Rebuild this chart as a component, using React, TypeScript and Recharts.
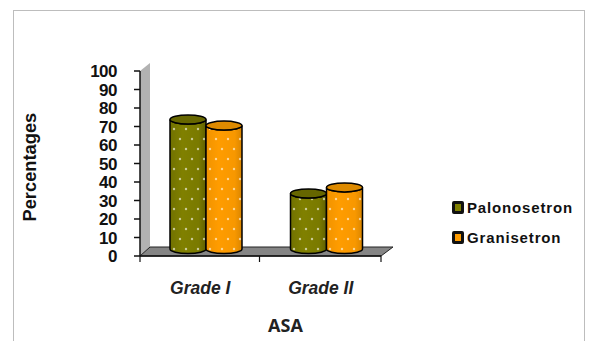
import { Bar, BarChart, Legend, XAxis, YAxis } from "recharts";

const grades = ["Grade I", "Grade II"];
const palonosetron = [70, 30];
const granisetron = [66.7, 33.3];
const yTicks = [0, 10, 20, 30, 40, 50, 60, 70, 80, 90, 100];

const data = grades.map((grade, i) => ({
  grade,
  Palonosetron: palonosetron[i],
  Granisetron: granisetron[i],
}));

const legendItems = [
  { name: "Palonosetron", color: "#808000" },
  { name: "Granisetron", color: "#ff9c00" },
];

// plot box of the chart, the fake 3D walls hang off these
const LEFT = 140;
const TOP = 71;
const RIGHT = 381;
const BOTTOM = 256;
const MID = 259.5;
const DEPTH_X = 6;
const DEPTH_Y = 7;

const sans = "'Liberation Sans', Arial, sans-serif";

function Cylinder(props: any) {
  const { x, y, width, height, fill, id, top } = props;
  const rx = width / 2;
  const ry = 4.5;
  const l = x + DEPTH_X;
  const r = l + width;
  const t = y - DEPTH_Y;
  const b = t + height;
  const body = `M${l},${t} L${l},${b} A${rx},${ry} 0 0 0 ${r},${b} L${r},${t} A${rx},${ry} 0 0 1 ${l},${t} Z`;
  return (
    <g>
      <path d={body} fill={fill} />
      <path d={body} fill={`url(#${id}-shade)`} />
      <path d={body} fill="url(#dots)" stroke="#000" strokeWidth={1.5} />
      <ellipse cx={l + rx} cy={t} rx={rx} ry={ry} fill={top} stroke="#000" strokeWidth={1.5} />
    </g>
  );
}

function LegendBox() {
  return (
    <div style={{ fontFamily: sans, fontWeight: 700, fontSize: 15, color: "#111" }}>
      {legendItems.map((item) => (
        <div key={item.name} style={{ display: "flex", alignItems: "center", height: 30 }}>
          <span
            style={{
              width: 6,
              height: 7,
              marginRight: 3,
              background: item.color,
              border: "3px solid #111",
              borderRadius: 2,
            }}
          />
          <span style={{ letterSpacing: 0.85 }}>{item.name}</span>
        </div>
      ))}
    </div>
  );
}

export default function App() {
  return (
    <div style={{ position: "absolute", left: 0, top: 0, width: 589, height: 341, overflow: "hidden", background: "#fff" }}>
      <div
        style={{
          position: "absolute",
          left: 13,
          top: 10,
          width: 570,
          height: 340,
          border: "1px solid #bdbdbd",
        }}
      />
      <BarChart
        width={589}
        height={341}
        data={data}
        barSize={36}
        barGap={0}
        margin={{ top: TOP, right: 589 - RIGHT, bottom: 0, left: 0 }}
        style={{ position: "absolute", left: 0, top: 0 }}
      >
        <defs>
          <pattern id="dots" width="12" height="20" patternUnits="userSpaceOnUse" patternTransform="translate(3 4)">
            <circle cx="3" cy="5" r="1.2" fill="#fff" fillOpacity={0.6} />
            <circle cx="9" cy="15" r="1.2" fill="#fff" fillOpacity={0.6} />
          </pattern>
          <linearGradient id="olive-shade" x1="0" x2="1" y1="0" y2="0">
            <stop offset="0" stopColor="#000" stopOpacity={0.12} />
            <stop offset="0.35" stopColor="#000" stopOpacity={0} />
            <stop offset="0.8" stopColor="#000" stopOpacity={0.05} />
            <stop offset="1" stopColor="#000" stopOpacity={0.25} />
          </linearGradient>
          <linearGradient id="orange-shade" x1="0" x2="1" y1="0" y2="0">
            <stop offset="0" stopColor="#000" stopOpacity={0.06} />
            <stop offset="0.35" stopColor="#000" stopOpacity={0} />
            <stop offset="0.8" stopColor="#000" stopOpacity={0.03} />
            <stop offset="1" stopColor="#000" stopOpacity={0.15} />
          </linearGradient>
        </defs>

        {/* side wall and floor */}
        <polygon points={`${LEFT},${TOP} 150,63 150,247 ${LEFT},${BOTTOM}`} fill="#b2b2b2" />
        <polygon
          points={`${LEFT},${BOTTOM} 150,247 393,247 ${RIGHT},${BOTTOM}`}
          fill="#858585"
          stroke="#222"
          strokeWidth={1}
        />
        {[LEFT, MID, RIGHT].map((x) => (
          <line key={x} x1={x} x2={x} y1={BOTTOM} y2={BOTTOM + 6} stroke="#111" strokeWidth={1.2} />
        ))}

        <XAxis
          dataKey="grade"
          height={85}
          tickLine={false}
          axisLine={{ stroke: "#111", strokeWidth: 1.5 }}
          tickMargin={20}
          tick={{ fontFamily: sans, fontSize: 17.5, fontWeight: 700, fontStyle: "italic", fill: "#222" }}
          label={{
            value: "ASA",
            position: "insideBottom",
            offset: 9,
            dx: 25,
            style: { fontFamily: "'Open Sans', sans-serif", fontSize: 18, fontWeight: 700, fill: "#222" },
          }}
        />
        <YAxis
          width={LEFT}
          domain={[0, 100]}
          ticks={yTicks}
          interval={0}
          tickSize={6}
          tickMargin={17}
          tickLine={{ stroke: "#111", strokeWidth: 1.5 }}
          axisLine={{ stroke: "#111", strokeWidth: 1.5 }}
          tick={{ fontFamily: sans, fontSize: 17, fontWeight: 700, letterSpacing: -0.5, fill: "#111" }}
          label={{
            value: "Percentages",
            angle: -90,
            position: "insideLeft",
            offset: 30,
            dy: 58,
            style: { fontFamily: sans, fontSize: 18.3, fontWeight: 700, fill: "#111" },
          }}
        />
        <Legend
          layout="horizontal"
          verticalAlign="middle"
          align="center"
          content={<LegendBox />}
          wrapperStyle={{ left: 452, top: 192, width: 132, bottom: "auto", right: "auto" }}
        />
        <Bar
          dataKey="Palonosetron"
          fill="#808000"
          isAnimationActive={false}
          shape={(p: any) => <Cylinder {...p} id="olive" top="#666600" />}
        />
        <Bar
          dataKey="Granisetron"
          fill="#ff9c00"
          isAnimationActive={false}
          shape={(p: any) => <Cylinder {...p} id="orange" top="#dd8a00" />}
        />
      </BarChart>
    </div>
  );
}
